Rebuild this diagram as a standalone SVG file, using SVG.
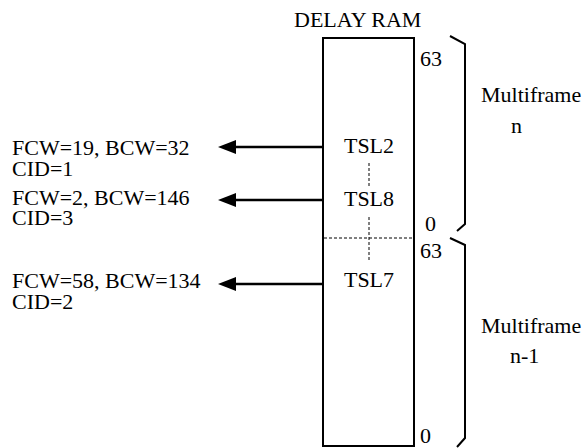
<svg xmlns="http://www.w3.org/2000/svg" width="584" height="448" viewBox="0 0 584 448">
<style>
.t{font-family:'Liberation Serif','Times New Roman',serif;font-size:22px;fill:#000}
.box{fill:#fff;stroke:#000;stroke-width:2}
.dash{fill:none;stroke:#000;stroke-width:1;stroke-dasharray:3 2}
.brace{fill:none;stroke:#000;stroke-width:2}
.arrow{stroke:#000;stroke-width:2.5;marker-end:url(#ah)}
</style>
<defs>
<marker id="ah" markerUnits="userSpaceOnUse" markerWidth="18" markerHeight="14" refX="4" refY="7" orient="auto">
<path d="M0,0 L18,7 L0,14 z" fill="#000"/>
</marker>
</defs>
<g id="ram">
<text class="t" x="294" y="27">DELAY RAM</text>
<rect class="box" x="323" y="38" width="91" height="408"/>
<line class="dash" x1="324" y1="238" x2="413" y2="238"/>
<line class="dash" x1="369" y1="163" x2="369" y2="187"/>
<line class="dash" x1="369" y1="217" x2="369" y2="260"/>
<text class="t" x="369" y="153" text-anchor="middle">TSL2</text>
<text class="t" x="369" y="206" text-anchor="middle">TSL8</text>
<text class="t" x="369" y="287" text-anchor="middle">TSL7</text>
<text class="t" x="420" y="66">63</text>
<text class="t" x="425" y="231">0</text>
<text class="t" x="420" y="258">63</text>
<text class="t" x="420" y="443">0</text>
</g>
<g id="multiframe-n">
<path class="brace" d="M450,36 L465,44 L465,224 L457,231"/>
<text class="t" x="481" y="102">Multiframe</text>
<text class="t" x="511" y="133">n</text>
</g>
<g id="multiframe-n-1">
<path class="brace" d="M450,238 L465,245 L465,438 L457,447"/>
<text class="t" x="481" y="333">Multiframe</text>
<text class="t" x="510" y="363">n-1</text>
</g>
<g id="label-tsl2">
<text class="t" x="12" y="155">FCW=19, BCW=32</text>
<text class="t" x="12" y="176">CID=1</text>
</g>
<g id="label-tsl8">
<text class="t" x="12" y="205">FCW=2, BCW=146</text>
<text class="t" x="12" y="225">CID=3</text>
</g>
<g id="label-tsl7">
<text class="t" x="12" y="288">FCW=58, BCW=134</text>
<text class="t" x="12" y="309">CID=2</text>
</g>
<g id="connectors">
<line class="arrow" x1="323" y1="147" x2="232" y2="147"/>
<line class="arrow" x1="323" y1="200" x2="232" y2="200"/>
<line class="arrow" x1="323" y1="284" x2="232" y2="284"/>
</g>
</svg>
